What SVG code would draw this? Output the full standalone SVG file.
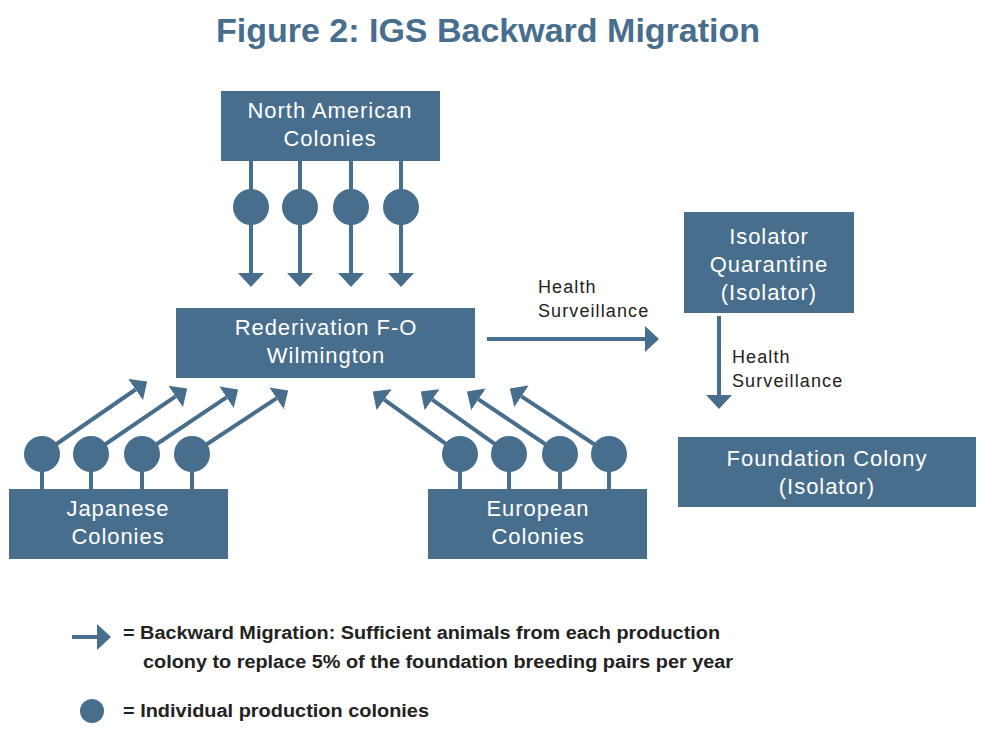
<svg xmlns="http://www.w3.org/2000/svg" width="1000" height="744" viewBox="0 0 1000 744">
<style>
.box{fill:#476e8c}
.nt{font-family:"Liberation Sans",Arial,sans-serif;font-size:22px;fill:#fff;text-anchor:middle;letter-spacing:0.95px}
.lbl{font-family:"Liberation Sans",Arial,sans-serif;font-size:18px;fill:#222;letter-spacing:1.1px}
.leg{font-family:"Liberation Sans",Arial,sans-serif;font-size:18px;font-weight:bold;fill:#222}
.ln{stroke:#476e8c;stroke-width:4;fill:none}
.arr{stroke:#476e8c;stroke-width:4;fill:none;marker-end:url(#ah)}
.dot{fill:#476e8c}
</style>
<defs>
<marker id="ah" viewBox="0 0 14 26" refX="0" refY="13" markerWidth="14" markerHeight="26" markerUnits="userSpaceOnUse" orient="auto">
<path d="M0,0 L14,13 L0,26 Z" fill="#476e8c"/>
</marker>
</defs>
<rect width="1000" height="744" fill="#fff"/>
<text x="488" y="42" font-family="Liberation Sans,Arial,sans-serif" font-size="34" font-weight="bold" fill="#476e8c" text-anchor="middle">Figure 2: IGS Backward Migration</text>

<g id="connectors">
<!-- North American -->
<line class="arr" x1="251" y1="161" x2="251" y2="273"/>
<line class="arr" x1="300" y1="161" x2="300" y2="273"/>
<line class="arr" x1="351" y1="161" x2="351" y2="273"/>
<line class="arr" x1="401" y1="161" x2="401" y2="273"/>
<!-- Japanese -->
<line class="ln" x1="42" y1="454" x2="42" y2="490"/>
<line class="ln" x1="91" y1="454" x2="91" y2="490"/>
<line class="ln" x1="142" y1="454" x2="142" y2="490"/>
<line class="ln" x1="192" y1="454" x2="192" y2="490"/>
<line class="arr" x1="42" y1="454" x2="135.6" y2="389.5"/>
<line class="arr" x1="91" y1="454" x2="175.6" y2="396.4"/>
<line class="arr" x1="142" y1="454" x2="226.5" y2="397.4"/>
<line class="arr" x1="192" y1="454" x2="276.5" y2="398.3"/>
<!-- European -->
<line class="ln" x1="460" y1="454" x2="460" y2="490"/>
<line class="ln" x1="509" y1="454" x2="509" y2="490"/>
<line class="ln" x1="560" y1="454" x2="560" y2="490"/>
<line class="ln" x1="609" y1="454" x2="609" y2="490"/>
<line class="arr" x1="460" y1="454" x2="384.2" y2="399.7"/>
<line class="arr" x1="509" y1="454" x2="432.2" y2="399.7"/>
<line class="arr" x1="560" y1="454" x2="478.5" y2="399.4"/>
<line class="arr" x1="609" y1="454" x2="521.5" y2="396.3"/>
<!-- Health surveillance -->
<line class="arr" x1="487" y1="339" x2="645" y2="339"/>
<line class="arr" x1="719" y1="316" x2="719" y2="395"/>
<text class="lbl" x="538" y="293">Health</text>
<text class="lbl" x="538" y="317">Surveillance</text>
<text class="lbl" x="732" y="363">Health</text>
<text class="lbl" x="732" y="387">Surveillance</text>
</g>

<g id="colonies">
<circle class="dot" cx="251" cy="207" r="18"/>
<circle class="dot" cx="300" cy="207" r="18"/>
<circle class="dot" cx="351" cy="207" r="18"/>
<circle class="dot" cx="401" cy="207" r="18"/>
<circle class="dot" cx="42" cy="454" r="18"/>
<circle class="dot" cx="91" cy="454" r="18"/>
<circle class="dot" cx="142" cy="454" r="18"/>
<circle class="dot" cx="192" cy="454" r="18"/>
<circle class="dot" cx="460" cy="454" r="18"/>
<circle class="dot" cx="509" cy="454" r="18"/>
<circle class="dot" cx="560" cy="454" r="18"/>
<circle class="dot" cx="609" cy="454" r="18"/>
</g>

<g id="north-american">
<rect class="box" x="221" y="91" width="219" height="70"/>
<text class="nt" x="330" y="118">North American</text>
<text class="nt" x="330" y="146">Colonies</text>
</g>
<g id="rederivation">
<rect class="box" x="176" y="308" width="299" height="70"/>
<text class="nt" x="326" y="335">Rederivation F-O</text>
<text class="nt" x="326" y="363">Wilmington</text>
</g>
<g id="japanese">
<rect class="box" x="9" y="489" width="219" height="70"/>
<text class="nt" x="118" y="516">Japanese</text>
<text class="nt" x="118" y="544">Colonies</text>
</g>
<g id="european">
<rect class="box" x="428" y="489" width="219" height="70"/>
<text class="nt" x="538" y="516">European</text>
<text class="nt" x="538" y="544">Colonies</text>
</g>
<g id="isolator-quarantine">
<rect class="box" x="684" y="212" width="170" height="101"/>
<text class="nt" x="769" y="244">Isolator</text>
<text class="nt" x="769" y="272">Quarantine</text>
<text class="nt" x="769" y="300">(Isolator)</text>
</g>
<g id="foundation-colony">
<rect class="box" x="678" y="437" width="298" height="70"/>
<text class="nt" x="827" y="466">Foundation Colony</text>
<text class="nt" x="827" y="494">(Isolator)</text>
</g>

<g id="legend">
<line class="arr" x1="72" y1="637" x2="97" y2="637"/>
<text class="leg" x="123" y="639" textLength="597" lengthAdjust="spacingAndGlyphs">= Backward Migration: Sufficient animals from each production</text>
<text class="leg" x="143" y="668" textLength="590" lengthAdjust="spacingAndGlyphs">colony to replace 5% of the foundation breeding pairs per year</text>
<circle class="dot" cx="92" cy="711" r="12"/>
<text class="leg" x="123" y="717" textLength="306" lengthAdjust="spacingAndGlyphs">= Individual production colonies</text>
</g>
</svg>
